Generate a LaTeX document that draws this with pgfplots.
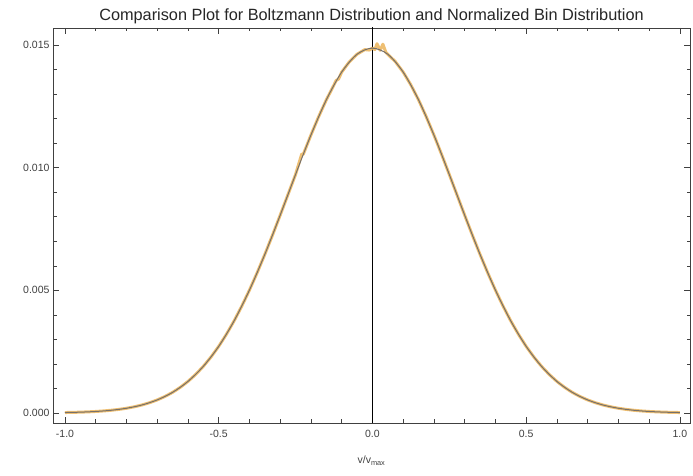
\documentclass[border=0pt]{standalone}
\usepackage{pgfplots}
\pgfplotsset{compat=1.18}
\usepackage{fontspec}
\setmainfont{Liberation Sans}
\definecolor{morange}{HTML}{EBB45A}
\definecolor{mline}{RGB}{118,112,106}
\begin{document}
\begin{tikzpicture}[x=1pt,y=1pt]
\begin{axis}[
  name=ax,
  scale only axis,
  width=637pt, height=395pt,
  xmin=-1.039, xmax=1.033,
  ymin=-0.00041, ymax=0.0157,
  axis line style={black!75, line width=0.6pt},
  xtick={-1,-0.5,0,0.5,1},
  minor xtick={-0.9,-0.8,-0.7,-0.6,-0.4,-0.3,-0.2,-0.1,0.1,0.2,0.3,0.4,0.6,0.7,0.8,0.9},
  ytick={0,0.005,0.01,0.015},
  minor ytick={0.001,0.002,0.003,0.004,0.006,0.007,0.008,0.009,0.011,0.012,0.013,0.014},
  tick align=inside,
  major tick length=6pt, minor tick length=3.5pt,
  tick style={black!75, line width=0.6pt},
  xticklabel style={yshift=-4pt, /pgf/number format/.cd, fixed, fixed zerofill, precision=1},
  yticklabel style={/pgf/number format/.cd, fixed, fixed zerofill, precision=3},
  /pgf/number format/assume math mode=true,
  scaled y ticks=false,
  tick label style={font=\fontsize{10.5}{12}\selectfont, text=black!75},
  xlabel={v/v\textsubscript{max}},
  xlabel style={font=\fontsize{10.5}{12}\selectfont, text=black!75, yshift=-11pt},
  title={Comparison Plot for Boltzmann Distribution and Normalized Bin Distribution},
  title style={font=\fontsize{16.3}{18}\selectfont, text=black!85, yshift=-5pt},
  clip=true,
]
% vertical axis at origin
\addplot[black, line width=0.9pt] coordinates {(0,-0.001) (0,0.02)};
% normalized bin distribution
\addplot[morange, line width=3pt, line join=round, opacity=0.85] coordinates {
(-1.000,0.0000165) (-0.975,0.0000231) (-0.950,0.0000321) (-0.925,0.0000442) (-0.900,0.0000602)
(-0.875,0.0000814) (-0.850,0.000109) (-0.825,0.000145) (-0.800,0.000191) (-0.775,0.000250)
(-0.750,0.000324) (-0.725,0.000417) (-0.700,0.000531) (-0.675,0.000671) (-0.650,0.000840)
(-0.625,0.001044) (-0.600,0.001285) (-0.575,0.001570) (-0.550,0.001901) (-0.525,0.002282)
(-0.500,0.002716) (-0.475,0.003206) (-0.450,0.003753) (-0.425,0.004355) (-0.400,0.005011)
(-0.375,0.005717) (-0.350,0.006467) (-0.325,0.007253) (-0.300,0.008067) (-0.275,0.008896)
(-0.250,0.009726) (-0.230,0.010560) (-0.225,0.010545) (-0.200,0.011335) (-0.175,0.012082)
(-0.150,0.012768) (-0.125,0.013380) (-0.118,0.013560) (-0.110,0.013620) (-0.100,0.013901)
(-0.075,0.014321) (-0.050,0.014629) (-0.025,0.014817) (-0.010,0.014800) (0.000,0.014880)
(0.008,0.014820) (0.015,0.015060) (0.025,0.014790) (0.034,0.015040) (0.044,0.014700)
(0.050,0.014629) (0.075,0.014321) (0.100,0.013901) (0.125,0.013380) (0.150,0.012768)
(0.175,0.012082) (0.200,0.011335) (0.225,0.010545) (0.250,0.009726) (0.275,0.008896)
(0.300,0.008067) (0.325,0.007253) (0.350,0.006467) (0.375,0.005717) (0.400,0.005011)
(0.425,0.004355) (0.450,0.003753) (0.475,0.003206) (0.500,0.002716) (0.525,0.002282)
(0.550,0.001901) (0.575,0.001570) (0.600,0.001285) (0.625,0.001044) (0.650,0.000840)
(0.675,0.000671) (0.700,0.000531) (0.725,0.000417) (0.750,0.000324) (0.775,0.000250)
(0.800,0.000191) (0.825,0.000145) (0.850,0.000109) (0.875,0.0000814) (0.900,0.0000602)
(0.925,0.0000442) (0.950,0.0000321) (0.975,0.0000231) (1.000,0.0000165)
};
% Boltzmann distribution
\addplot[mline, line width=1.0pt, smooth] coordinates {
(-1.00,0.0000165) (-0.95,0.0000321) (-0.90,0.0000602) (-0.85,0.000109) (-0.80,0.000191)
(-0.75,0.000324) (-0.70,0.000531) (-0.65,0.000840) (-0.60,0.001285) (-0.55,0.001901)
(-0.50,0.002716) (-0.45,0.003753) (-0.40,0.005011) (-0.35,0.006467) (-0.30,0.008067)
(-0.25,0.009726) (-0.20,0.011335) (-0.15,0.012768) (-0.10,0.013901) (-0.05,0.014629)
(0.00,0.014880) (0.05,0.014629) (0.10,0.013901) (0.15,0.012768) (0.20,0.011335)
(0.25,0.009726) (0.30,0.008067) (0.35,0.006467) (0.40,0.005011) (0.45,0.003753)
(0.50,0.002716) (0.55,0.001901) (0.60,0.001285) (0.65,0.000840) (0.70,0.000531)
(0.75,0.000324) (0.80,0.000191) (0.85,0.000109) (0.90,0.0000602) (0.95,0.0000321)
(1.00,0.0000165)
};
\end{axis}
\pgfresetboundingbox
\path ([shift={(-53pt,-53pt)}]ax.south west) rectangle ([shift={(3pt,28pt)}]ax.north east);
\end{tikzpicture}
\end{document}
